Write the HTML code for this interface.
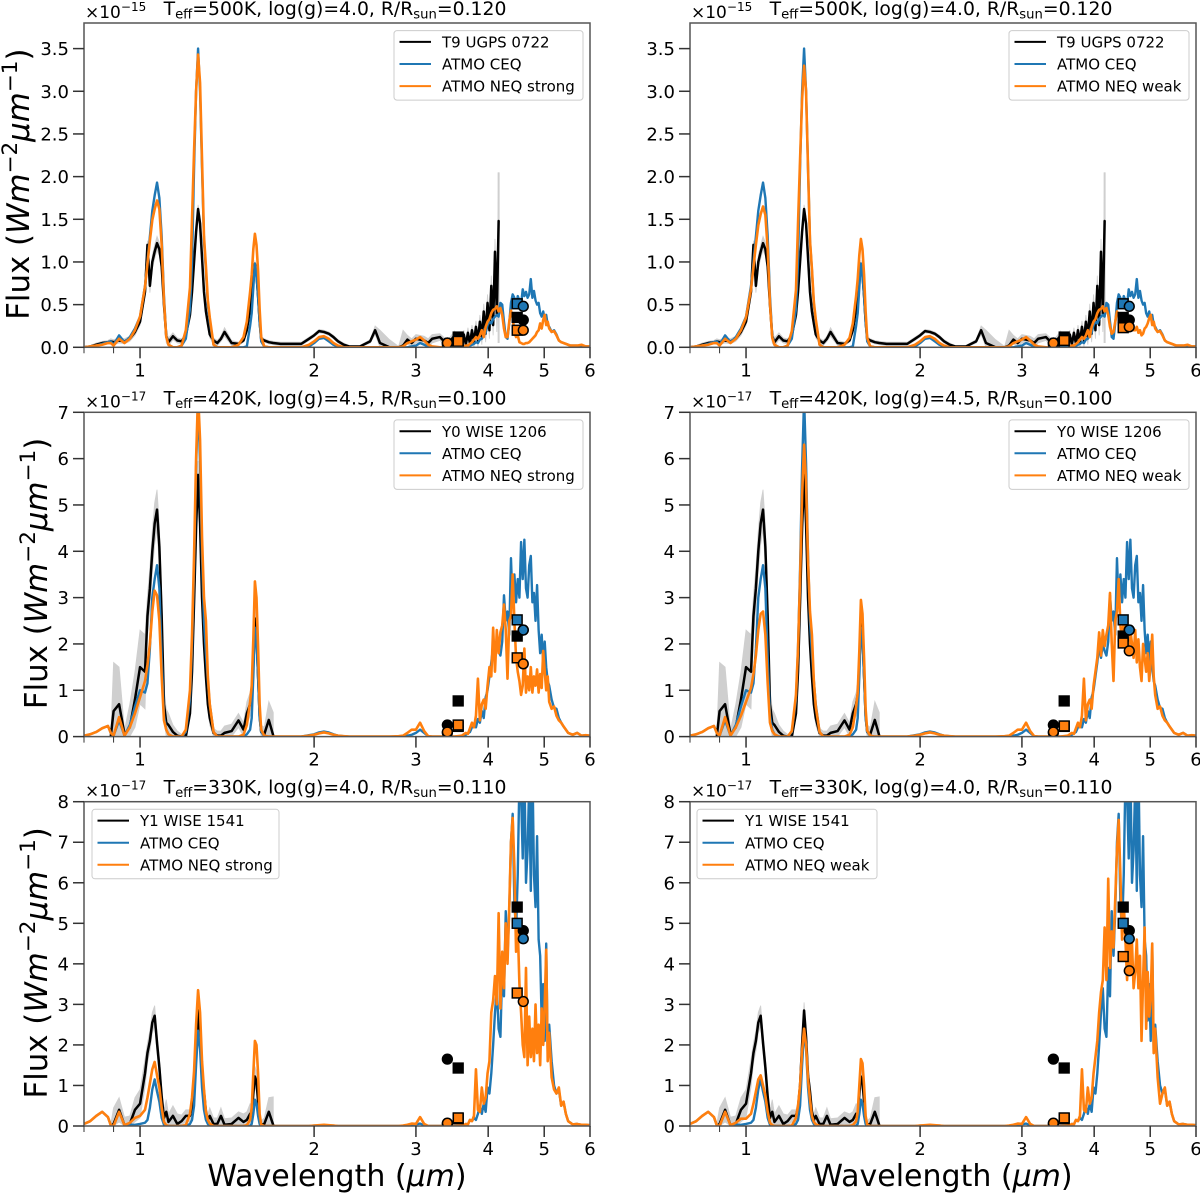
<!DOCTYPE html>
<html lang="en">
<head>
<meta charset="utf-8">
<title>ATMO model spectra compared with brown dwarf observations</title>
<style>
html,body{margin:0;padding:0;background:#fff}
svg{display:block;filter:blur(0.35px)}
text{font-family:"DejaVu Sans","Liberation Sans",sans-serif;fill:#000}
</style>
</head>
<body>
<svg id="figure" xmlns="http://www.w3.org/2000/svg" width="1200" height="1193" viewBox="0 0 1200 1193"></svg>
<script>
const n = null;

/* ---------- Shared wavelength grid (micron) ---------- */
const wave = [
0.80,0.82,0.84,0.86,0.88,0.89,0.90,0.92,0.94,0.96,
0.98,1.00,1.02,1.03,1.04,1.05,1.06,1.07,1.08,1.09,
1.10,1.11,1.12,1.14,1.16,1.18,1.20,1.22,1.23,1.24,
1.25,1.26,1.27,1.28,1.29,1.30,1.31,1.32,1.34,1.36,
1.38,1.40,1.44,1.48,1.51,1.53,1.55,1.56,1.57,1.58,
1.59,1.60,1.61,1.62,1.64,1.67,1.70,1.75,1.80,1.90,
1.96,2.00,2.04,2.08,2.12,2.16,2.20,2.25,2.30,2.40,
2.50,2.55,2.60,2.70,2.80,2.85,2.90,2.95,3.00,3.05,
3.10,3.15,3.20,3.30,3.40,3.50,3.60,3.63,3.66,3.69,
3.72,3.75,3.78,3.81,3.84,3.87,3.90,3.93,3.96,3.99,
4.02,4.05,4.08,4.11,4.14,4.17,4.20,4.23,4.26,4.29,
4.32,4.35,4.38,4.41,4.44,4.47,4.50,4.53,4.56,4.59,
4.62,4.65,4.68,4.71,4.74,4.77,4.80,4.83,4.86,4.89,
4.92,4.95,4.98,5.01,5.04,5.07,5.10,5.15,5.20,5.25,
5.30,5.35,5.40,5.45,5.50,5.55,5.60,5.70,5.80,5.90,
6.00];

/* ---------- T9 UGPS 0722 (x 1e-15) ---------- */
const t9Obs = [
0.00,0.01,0.03,0.05,0.06,0.07,0.06,0.08,0.07,0.10,
0.18,0.30,0.65,1.20,0.72,1.00,1.12,1.22,1.15,0.95,
0.50,0.13,0.06,0.13,0.08,0.07,0.14,0.38,0.65,1.00,
1.35,1.62,1.45,1.05,0.65,0.42,0.28,0.15,0.08,0.05,
0.10,0.18,0.05,0.04,0.08,0.20,0.45,0.60,0.80,0.98,
0.85,0.60,0.30,0.10,0.08,0.06,0.05,0.04,0.04,0.04,
0.10,0.14,0.19,0.18,0.16,0.12,0.07,0.03,0.01,0.01,
0.07,0.20,0.05,0.00,0.00,0.02,0.09,0.05,0.10,0.09,
0.08,0.05,0.10,0.12,0.03,0.14,0.02,0.15,0.03,0.17,
0.04,0.20,0.06,0.24,0.08,0.30,0.12,0.42,0.16,0.52,
0.20,0.72,0.26,1.12,0.38,1.48,n,n,n,n,
n,n,n,n,n,n,n,n,n,n,
n,n,n,n,n,n,n,n,n,n,
n,n,n,n,n,n,n,n,n,n,
n,n,n,n,n,n,n,n,n,n,
n];
const t9Err = [
0.01,0.01,0.02,0.02,0.02,0.03,0.03,0.03,0.03,0.03,
0.04,0.04,0.05,0.05,0.08,0.08,0.08,0.08,0.08,0.08,
0.08,0.08,0.05,0.04,0.03,0.03,0.02,0.02,0.03,0.03,
0.05,0.05,0.08,0.10,0.08,0.06,0.05,0.04,0.03,0.03,
0.03,0.05,0.03,0.02,0.02,0.02,0.02,0.03,0.03,0.04,
0.05,0.05,0.04,0.03,0.02,0.02,0.02,0.02,0.02,0.02,
0.02,0.02,0.02,0.02,0.02,0.02,0.02,0.02,0.01,0.01,
0.02,0.05,0.15,0.09,0.01,0.18,0.05,0.05,0.05,0.05,
0.05,0.05,0.05,0.04,0.05,0.05,0.05,0.05,0.05,0.06,
0.06,0.06,0.07,0.07,0.08,0.08,0.09,0.09,0.10,0.10,
0.10,0.12,0.12,0.15,0.20,0.57,n,n,n,n,
n,n,n,n,n,n,n,n,n,n,
n,n,n,n,n,n,n,n,n,n,
n,n,n,n,n,n,n,n,n,n,
n,n,n,n,n,n,n,n,n,n,
n];
const t9Spike = [4.17,0.05,2.05];
const t9Ceq = [
0.00,0.01,0.02,0.04,0.06,0.07,0.03,0.14,0.06,0.12,
0.22,0.36,0.72,1.00,1.30,1.60,1.78,1.93,1.75,1.30,
0.60,0.13,0.03,0.00,0.00,0.02,0.10,0.45,1.00,2.10,
3.00,3.50,3.00,2.10,1.25,0.90,0.50,0.30,0.03,0.00,
0.00,0.00,0.00,0.00,0.00,0.01,0.25,0.40,0.70,0.98,
0.85,0.60,0.30,0.07,0.01,0.00,0.00,0.00,0.00,0.00,
0.01,0.05,0.10,0.11,0.07,0.03,0.01,0.00,0.00,0.00,
0.00,0.00,0.00,0.00,0.00,0.00,0.00,0.01,0.02,0.05,
0.03,0.01,0.00,0.00,0.00,0.00,0.00,0.00,0.01,0.01,
0.02,0.03,0.04,0.06,0.05,0.09,0.10,0.14,0.17,0.26,
0.30,0.28,0.33,0.36,0.38,0.36,0.52,0.50,0.30,0.12,
0.10,0.28,0.52,0.62,0.58,0.48,0.60,0.55,0.50,0.68,
0.60,0.65,0.58,0.62,0.80,0.58,0.66,0.55,0.50,0.52,
0.40,0.36,0.42,0.33,0.38,0.26,0.24,0.18,0.20,0.15,
0.08,0.06,0.05,0.04,0.03,0.02,0.02,0.02,0.01,0.01,
0.01];
const t9Strong = [
0.00,0.01,0.02,0.03,0.05,0.05,0.02,0.10,0.05,0.10,
0.20,0.36,0.71,0.98,1.25,1.49,1.62,1.72,1.62,1.20,
0.55,0.12,0.03,0.00,0.00,0.02,0.20,0.70,1.50,2.30,
3.00,3.43,3.10,2.20,1.30,0.95,0.55,0.35,0.03,0.00,
0.00,0.00,0.00,0.03,0.12,0.30,0.65,0.85,1.15,1.33,
1.20,0.90,0.45,0.12,0.01,0.00,0.00,0.00,0.00,0.00,
0.03,0.07,0.12,0.13,0.10,0.05,0.02,0.00,0.00,0.00,
0.00,0.00,0.00,0.00,0.00,0.01,0.05,0.07,0.09,0.12,
0.08,0.03,0.01,0.00,0.00,0.00,0.01,0.01,0.02,0.02,
0.04,0.06,0.09,0.12,0.10,0.14,0.20,0.12,0.24,0.30,
0.33,0.40,0.44,0.45,0.48,0.42,0.46,0.38,0.22,0.12,
0.12,0.30,0.43,0.35,0.18,0.12,0.14,0.06,0.05,0.04,
0.04,0.05,0.05,0.06,0.08,0.10,0.12,0.14,0.18,0.20,
0.28,0.22,0.32,0.38,0.26,0.30,0.22,0.18,0.19,0.14,
0.08,0.06,0.05,0.04,0.03,0.02,0.02,0.02,0.03,0.01,
0.01];
const t9Weak = [
0.00,0.01,0.02,0.03,0.05,0.05,0.02,0.10,0.05,0.10,
0.20,0.35,0.68,0.94,1.20,1.43,1.56,1.65,1.55,1.15,
0.52,0.11,0.03,0.00,0.00,0.02,0.19,0.67,1.45,2.20,
2.90,3.30,3.00,2.10,1.25,0.92,0.53,0.33,0.03,0.00,
0.00,0.00,0.00,0.03,0.11,0.28,0.60,0.80,1.08,1.27,
1.15,0.85,0.42,0.11,0.01,0.00,0.00,0.00,0.00,0.00,
0.03,0.07,0.12,0.13,0.10,0.05,0.02,0.00,0.00,0.00,
0.00,0.00,0.00,0.00,0.00,0.01,0.05,0.07,0.09,0.12,
0.08,0.03,0.01,0.00,0.00,0.00,0.01,0.01,0.02,0.02,
0.04,0.06,0.09,0.12,0.10,0.14,0.20,0.12,0.24,0.30,
0.33,0.40,0.44,0.45,0.48,0.42,0.46,0.38,0.24,0.16,
0.18,0.30,0.42,0.38,0.30,0.34,0.30,0.27,0.22,0.24,
0.22,0.25,0.20,0.20,0.24,0.17,0.20,0.14,0.16,0.22,
0.24,0.28,0.34,0.38,0.26,0.30,0.22,0.18,0.19,0.14,
0.08,0.06,0.05,0.04,0.03,0.02,0.02,0.02,0.03,0.01,
0.01];

/* ---------- Y0 WISE 1206 (x 1e-17) ---------- */
const y0Obs = [
n,n,n,n,n,0.00,0.55,0.70,0.05,0.20,
0.80,1.50,1.40,2.60,3.20,4.00,4.60,4.90,4.10,2.60,
0.70,0.30,0.25,0.10,0.02,0.00,0.00,0.50,1.40,2.90,
4.50,5.65,4.60,3.00,2.00,1.30,0.70,0.40,0.08,0.02,
0.02,0.08,0.12,0.35,0.15,0.50,0.70,0.90,1.60,2.55,
2.20,1.30,0.45,0.10,0.05,0.36,0.02,n,n,n,
n,n,n,n,n,n,n,n,n,n,
n,n,n,n,n,n,n,n,n,n,
n,n,n,n,n,n,n,n,n,n,
n,n,n,n,n,n,n,n,n,n,
n,n,n,n,n,n,n,n,n,n,
n,n,n,n,n,n,n,n,n,n,
n,n,n,n,n,n,n,n,n,n,
n,n,n,n,n,n,n,n,n,n,
n,n,n,n,n,n,n,n,n,n,
n];
const y0Err = [
n,n,n,n,n,0.05,1.05,0.80,0.10,0.50,
0.60,0.80,0.80,0.45,0.45,0.45,0.45,0.43,0.45,0.45,
0.35,0.30,0.25,0.15,0.10,0.05,0.05,0.10,0.15,0.15,
0.20,0.30,0.35,0.30,0.25,0.20,0.15,0.15,0.10,0.10,
0.10,0.15,0.15,0.15,0.15,0.25,0.25,0.25,0.25,0.30,
0.30,0.25,0.20,0.15,0.15,0.40,0.50,n,n,n,
n,n,n,n,n,n,n,n,n,n,
n,n,n,n,n,n,n,n,n,n,
n,n,n,n,n,n,n,n,n,n,
n,n,n,n,n,n,n,n,n,n,
n,n,n,n,n,n,n,n,n,n,
n,n,n,n,n,n,n,n,n,n,
n,n,n,n,n,n,n,n,n,n,
n,n,n,n,n,n,n,n,n,n,
n,n,n,n,n,n,n,n,n,n,
n];
const y0Ceq = [
0.02,0.05,0.10,0.18,0.23,0.08,0.02,0.35,0.02,0.25,
0.65,1.00,0.95,1.15,1.90,3.00,3.40,3.70,3.20,1.70,
0.45,0.15,0.05,0.00,0.00,0.00,0.10,0.80,1.90,3.60,
5.80,7.30,5.90,3.90,2.50,1.80,1.20,0.70,0.10,0.00,
0.00,0.00,0.00,0.00,0.00,0.05,0.15,0.40,1.30,2.35,
2.10,1.30,0.40,0.10,0.01,0.00,0.00,0.00,0.00,0.00,
0.03,0.05,0.09,0.11,0.09,0.05,0.02,0.01,0.00,0.00,
0.00,0.00,0.00,0.00,0.00,0.00,0.02,0.04,0.08,0.15,
0.08,0.01,0.00,0.00,0.00,0.00,0.01,0.02,0.04,0.07,
0.10,0.20,0.28,0.20,0.38,0.30,0.55,0.40,0.85,1.00,
1.30,1.60,1.95,1.70,2.00,1.85,1.75,2.05,3.05,2.50,
2.70,2.20,3.85,2.80,3.50,2.90,3.40,3.00,4.20,3.40,
4.25,3.20,3.00,3.70,3.90,2.90,3.10,2.50,3.27,2.30,
1.80,2.20,1.60,2.05,1.50,1.20,1.10,0.80,0.62,0.60,
0.40,0.30,0.22,0.15,0.08,0.06,0.04,0.08,0.02,0.03,
0.02];
const y0Strong = [
0.02,0.05,0.10,0.18,0.23,0.08,0.02,0.42,0.02,0.20,
0.50,0.85,1.20,1.55,2.00,2.70,3.15,3.05,2.50,1.30,
0.35,0.15,0.05,0.00,0.00,0.00,0.15,1.00,2.20,3.90,
6.00,7.40,6.40,4.30,3.00,2.50,1.30,0.70,0.10,0.00,
0.00,0.00,0.00,0.00,0.04,0.25,0.75,1.10,2.10,3.35,
3.00,1.95,0.70,0.15,0.02,0.00,0.00,0.00,0.00,0.00,
0.02,0.04,0.07,0.09,0.07,0.04,0.02,0.01,0.00,0.00,
0.00,0.00,0.00,0.00,0.01,0.02,0.08,0.15,0.15,0.30,
0.12,0.01,0.00,0.00,0.00,0.00,0.02,0.05,0.08,0.06,
0.18,0.30,0.20,0.45,1.25,0.35,0.70,0.80,0.60,1.10,
1.50,1.30,2.35,1.40,2.30,1.80,2.25,2.40,2.85,2.30,
1.25,2.50,2.60,3.50,2.50,1.70,1.40,1.20,0.90,1.10,
1.90,0.95,1.30,1.00,1.50,0.95,1.30,1.10,1.45,0.95,
1.35,1.05,1.85,1.40,1.00,1.30,0.75,0.60,0.65,0.45,
0.35,0.30,0.22,0.15,0.08,0.06,0.04,0.08,0.02,0.03,
0.02];
const y0Weak = [
0.02,0.05,0.10,0.18,0.23,0.08,0.02,0.42,0.02,0.20,
0.45,0.75,1.05,1.35,1.75,2.30,2.65,2.70,2.20,1.15,
0.30,0.12,0.05,0.00,0.00,0.00,0.12,0.90,1.90,3.40,
5.20,6.30,5.50,3.80,2.70,2.20,1.20,0.65,0.10,0.00,
0.00,0.00,0.00,0.00,0.04,0.20,0.65,0.95,1.85,2.95,
2.65,1.70,0.60,0.13,0.02,0.00,0.00,0.00,0.00,0.00,
0.02,0.04,0.07,0.09,0.07,0.04,0.02,0.01,0.00,0.00,
0.00,0.00,0.00,0.00,0.01,0.02,0.08,0.15,0.15,0.30,
0.12,0.01,0.00,0.00,0.00,0.00,0.02,0.05,0.08,0.06,
0.18,0.30,0.20,0.45,1.25,0.35,0.70,0.80,0.60,1.10,
1.40,1.70,2.25,1.75,2.30,1.95,2.20,2.40,3.10,2.00,
1.20,2.50,2.70,3.40,2.40,2.10,2.50,2.00,2.30,1.80,
2.30,2.00,1.70,2.30,1.60,2.10,1.50,1.20,2.00,1.70,
1.40,1.80,1.20,1.60,2.20,1.30,0.90,0.60,0.65,0.45,
0.35,0.30,0.22,0.15,0.08,0.06,0.04,0.08,0.02,0.03,
0.02];

/* ---------- Y1 WISE 1541 (x 1e-17) ---------- */
const y1Obs = [
n,n,n,n,n,0.00,0.05,0.40,0.02,0.05,
0.40,0.55,1.30,1.80,2.10,2.55,2.72,2.05,1.45,0.72,
0.20,0.35,0.10,0.25,0.05,0.12,0.25,0.25,0.45,1.00,
2.00,2.85,2.20,1.25,0.85,0.35,0.15,0.25,0.05,0.05,
0.25,0.03,0.05,0.20,0.10,0.15,0.30,0.25,0.80,1.22,
1.10,0.60,0.10,0.03,0.05,0.35,0.02,n,n,n,
n,n,n,n,n,n,n,n,n,n,
n,n,n,n,n,n,n,n,n,n,
n,n,n,n,n,n,n,n,n,n,
n,n,n,n,n,n,n,n,n,n,
n,n,n,n,n,n,n,n,n,n,
n,n,n,n,n,n,n,n,n,n,
n,n,n,n,n,n,n,n,n,n,
n,n,n,n,n,n,n,n,n,n,
n,n,n,n,n,n,n,n,n,n,
n];
const y1Err = [
n,n,n,n,n,0.05,0.40,0.30,0.20,0.20,
0.30,0.35,0.35,0.25,0.25,0.25,0.25,0.25,0.25,0.25,
0.20,0.30,0.20,0.25,0.25,0.15,0.15,0.15,0.15,0.20,
0.20,0.20,0.20,0.20,0.15,0.15,0.15,0.20,0.15,0.15,
0.20,0.15,0.15,0.15,0.20,0.20,0.25,0.25,0.25,0.25,
0.25,0.20,0.15,0.10,0.15,0.35,0.70,n,n,n,
n,n,n,n,n,n,n,n,n,n,
n,n,n,n,n,n,n,n,n,n,
n,n,n,n,n,n,n,n,n,n,
n,n,n,n,n,n,n,n,n,n,
n,n,n,n,n,n,n,n,n,n,
n,n,n,n,n,n,n,n,n,n,
n,n,n,n,n,n,n,n,n,n,
n,n,n,n,n,n,n,n,n,n,
n,n,n,n,n,n,n,n,n,n,
n];
const y1Ceq = [
0.05,0.12,0.25,0.35,0.22,0.02,0.00,0.35,0.02,0.03,
0.03,0.05,0.08,0.15,0.45,0.90,1.15,0.85,0.60,0.20,
0.03,0.00,0.00,0.00,0.00,0.00,0.00,0.05,0.15,0.50,
1.50,2.35,1.90,0.95,0.40,0.15,0.05,0.00,0.00,0.00,
0.00,0.00,0.00,0.00,0.00,0.00,0.00,0.05,0.30,0.65,
0.55,0.25,0.05,0.00,0.00,0.00,0.00,0.00,0.00,0.00,
0.00,0.01,0.01,0.02,0.01,0.01,0.00,0.00,0.00,0.00,
0.00,0.00,0.00,0.00,0.00,0.00,0.01,0.02,0.04,0.06,
0.02,0.00,0.00,0.00,0.00,0.00,0.01,0.02,0.05,0.04,
0.15,0.12,0.20,0.15,0.30,0.50,0.30,0.55,0.35,0.95,
0.80,1.30,2.00,2.80,3.40,2.40,2.20,3.90,3.20,5.30,
4.20,5.30,7.00,7.70,5.50,4.80,6.20,8.60,8.20,6.60,
8.90,6.00,6.80,8.50,5.80,9.00,6.20,5.40,7.15,4.60,
4.20,2.60,3.50,2.10,4.50,1.80,2.50,1.60,1.00,0.80,
0.90,0.50,0.60,0.30,0.12,0.08,0.04,0.05,0.03,0.03,
0.02];
const y1Strong = [
0.05,0.12,0.25,0.35,0.22,0.02,0.00,0.35,0.02,0.08,
0.20,0.25,0.40,0.70,1.05,1.40,1.58,1.25,0.95,0.45,
0.10,0.02,0.00,0.00,0.00,0.00,0.02,0.30,0.70,1.35,
2.50,3.35,2.80,1.60,0.90,0.35,0.15,0.06,0.00,0.00,
0.00,0.00,0.00,0.00,0.00,0.02,0.15,0.45,1.30,2.10,
2.00,1.30,0.30,0.03,0.00,0.00,0.00,0.00,0.00,0.00,
0.00,0.01,0.02,0.03,0.02,0.01,0.00,0.00,0.00,0.00,
0.00,0.00,0.00,0.00,0.00,0.01,0.03,0.06,0.05,0.22,
0.05,0.00,0.00,0.00,0.00,0.00,0.01,0.02,0.05,0.04,
0.15,0.12,0.25,1.40,0.40,0.35,0.95,0.55,0.70,1.30,
1.60,2.80,3.10,3.70,3.00,5.25,2.90,4.30,3.40,5.00,
4.00,5.40,7.00,7.60,6.40,4.30,4.90,3.50,2.80,2.00,
1.70,3.90,1.50,2.70,1.70,2.40,1.60,3.00,1.80,2.50,
1.50,2.90,2.00,3.00,4.35,1.60,2.30,1.20,0.90,0.80,
0.95,0.50,0.60,0.30,0.12,0.08,0.04,0.05,0.03,0.03,
0.02];
const y1Weak = [
0.05,0.12,0.25,0.35,0.22,0.02,0.00,0.35,0.02,0.08,
0.18,0.18,0.30,0.55,0.85,1.15,1.25,1.00,0.75,0.35,
0.08,0.02,0.00,0.00,0.00,0.00,0.01,0.20,0.50,1.00,
1.85,2.40,2.00,1.15,0.65,0.25,0.10,0.04,0.00,0.00,
0.00,0.00,0.00,0.00,0.00,0.02,0.12,0.35,1.00,1.65,
1.55,1.00,0.25,0.03,0.00,0.00,0.00,0.00,0.00,0.00,
0.00,0.01,0.02,0.03,0.02,0.01,0.00,0.00,0.00,0.00,
0.00,0.00,0.00,0.00,0.00,0.01,0.03,0.06,0.05,0.22,
0.05,0.00,0.00,0.00,0.00,0.00,0.01,0.02,0.05,0.04,
0.15,0.12,0.25,1.40,0.40,0.35,0.95,0.55,0.70,1.30,
1.70,2.10,2.80,3.30,3.60,4.90,3.60,6.10,3.90,4.80,
4.40,5.60,6.80,7.55,6.20,4.60,5.50,4.60,3.60,4.80,
3.90,4.50,3.40,3.80,4.60,3.40,4.20,2.10,3.60,4.90,
2.40,3.80,2.70,3.20,4.50,1.80,2.40,1.20,0.55,0.80,
0.95,0.50,0.60,0.30,0.12,0.08,0.04,0.05,0.03,0.03,
0.02];

/* ---------- Photometry: W1 3.4, ch1 3.55, ch2 4.49, W2 4.6 ---------- */
const photWave = [3.40,3.55,4.49,4.60];
const photShape = ['circle','square','square','circle'];
const t9PhotObs = [0.05,0.12,0.35,0.32];
const t9PhotCeq = [0.03,0.05,0.51,0.48];
const t9PhotStrong = [0.05,0.07,0.20,0.20];
const t9PhotWeak = [0.05,0.08,0.23,0.24];
const y0PhotObs = [0.25,0.77,2.17,2.30];
const y0PhotCeq = [0.08,0.22,2.52,2.30];
const y0PhotStrong = [0.10,0.25,1.70,1.57];
const y0PhotWeak = [0.10,0.23,2.02,1.85];
const y1PhotObs = [1.65,1.43,5.40,4.82];
const y1PhotCeq = [0.05,0.18,5.00,4.62];
const y1PhotStrong = [0.07,0.20,3.28,3.07];
const y1PhotWeak = [0.07,0.20,4.18,3.83];

/* ---------- Axis labels ---------- */
const xTickValues = [1,2,3,4,5,6];
const xMinorValues = [0.8,0.9];
const t9TickLabels = ['0.0','0.5','1.0','1.5','2.0','2.5','3.0','3.5'];
const y0TickLabels = ['0','1','2','3','4','5','6','7'];
const y1TickLabels = ['0','1','2','3','4','5','6','7','8'];

/* ---------- Panel wiring ---------- */
const panels = [
 {col:0,row:0,yMax:3.8,ticks:t9TickLabels,exp:'\u221215',teff:'500',logg:'4.0',rad:'0.120',obsName:'T9 UGPS 0722',neqName:'ATMO NEQ strong',obs:t9Obs,err:t9Err,spike:t9Spike,ceq:t9Ceq,neq:t9Strong,pObs:t9PhotObs,pCeq:t9PhotCeq,pNeq:t9PhotStrong},
 {col:1,row:0,yMax:3.8,ticks:t9TickLabels,exp:'\u221215',teff:'500',logg:'4.0',rad:'0.120',obsName:'T9 UGPS 0722',neqName:'ATMO NEQ weak',obs:t9Obs,err:t9Err,spike:t9Spike,ceq:t9Ceq,neq:t9Weak,pObs:t9PhotObs,pCeq:t9PhotCeq,pNeq:t9PhotWeak},
 {col:0,row:1,yMax:7,ticks:y0TickLabels,exp:'\u221217',teff:'420',logg:'4.5',rad:'0.100',obsName:'Y0 WISE 1206',neqName:'ATMO NEQ strong',obs:y0Obs,err:y0Err,ceq:y0Ceq,neq:y0Strong,pObs:y0PhotObs,pCeq:y0PhotCeq,pNeq:y0PhotStrong},
 {col:1,row:1,yMax:7,ticks:y0TickLabels,exp:'\u221217',teff:'420',logg:'4.5',rad:'0.100',obsName:'Y0 WISE 1206',neqName:'ATMO NEQ weak',obs:y0Obs,err:y0Err,ceq:y0Ceq,neq:y0Weak,pObs:y0PhotObs,pCeq:y0PhotCeq,pNeq:y0PhotWeak},
 {col:0,row:2,yMax:8,ticks:y1TickLabels,exp:'\u221217',teff:'330',logg:'4.0',rad:'0.110',obsName:'Y1 WISE 1541',neqName:'ATMO NEQ strong',obs:y1Obs,err:y1Err,ceq:y1Ceq,neq:y1Strong,pObs:y1PhotObs,pCeq:y1PhotCeq,pNeq:y1PhotStrong},
 {col:1,row:2,yMax:8,ticks:y1TickLabels,exp:'\u221217',teff:'330',logg:'4.0',rad:'0.110',obsName:'Y1 WISE 1541',neqName:'ATMO NEQ weak',obs:y1Obs,err:y1Err,ceq:y1Ceq,neq:y1Weak,pObs:y1PhotObs,pCeq:y1PhotCeq,pNeq:y1PhotWeak}
];

/* ---------- Layout ---------- */
const colLeft = [84,690];
const rowTop = [23,412.3,801.7];
const plotW = 506, plotH = 324.3;
const xMin = 0.8, xMax = 6;
const BLUE = '#1f77b4', ORANGE = '#ff7f0e', BLACK = '#000000', GREY = '#cfcfcf';
const SVGNS = 'http://www.w3.org/2000/svg';
const root = document.getElementById('figure');

function mk(tag, attrs, parent){
  const e = document.createElementNS(SVGNS, tag);
  for (const k in attrs) e.setAttribute(k, attrs[k]);
  parent.appendChild(e);
  return e;
}
function span(parent, str, attrs){
  const t = document.createElementNS(SVGNS, 'tspan');
  for (const k in (attrs || {})) t.setAttribute(k, attrs[k]);
  t.textContent = str;
  parent.appendChild(t);
  return t;
}

function linePath(xs, ys, sx, sy){
  let d = '', pen = false;
  for (let i = 0; i < xs.length; i++){
    if (ys[i] === null || ys[i] === undefined){ pen = false; continue; }
    d += (pen ? 'L' : 'M') + sx(xs[i]).toFixed(2) + ' ' + sy(ys[i]).toFixed(2);
    pen = true;
  }
  return d;
}
function bandPath(xs, ys, es, sx, sy){
  let up = '', down = [];
  for (let i = 0; i < xs.length; i++){
    if (ys[i] === null || es[i] === null) continue;
    up += (up ? 'L' : 'M') + sx(xs[i]).toFixed(2) + ' ' + sy(ys[i] + es[i]).toFixed(2);
    down.unshift('L' + sx(xs[i]).toFixed(2) + ' ' + sy(Math.max(0, ys[i] - es[i])).toFixed(2));
  }
  return up + down.join('') + 'Z';
}

function drawMarkers(g, values, color, sx, sy){
  for (let i = 0; i < photWave.length; i++){
    const cx = sx(photWave[i]), cy = sy(values[i]);
    if (photShape[i] === 'circle'){
      const c = mk('circle', {cx:cx, cy:cy, r:4.9, fill:color, stroke:'#000', 'stroke-width':1.5}, g);
      
      
    } else {
      const r = mk('rect', {x:cx-4.9, y:cy-4.9, width:9.8, height:9.8, fill:color, stroke:'#000', 'stroke-width':1.5}, g);
      
      
    }
  }
}

panels.forEach(function(p, idx){
  const left = colLeft[p.col], top = rowTop[p.row], bottom = top + plotH, right = left + plotW;
  const sx = v => left + Math.log(v / xMin) / Math.log(xMax / xMin) * plotW;
  const sy = v => bottom - v / p.yMax * plotH;

  const g = mk('g', {}, root);
  
  

  const clipId = 'plot-clip-' + idx;
  const cp = mk('clipPath', {id:clipId}, g);
  mk('rect', {x:left, y:top, width:plotW, height:plotH}, cp);

  const plot = mk('g', {'clip-path':'url(#' + clipId + ')'}, g);
  
  

  const band = mk('path', {d:bandPath(wave, p.obs, p.err, sx, sy), fill:GREY, stroke:GREY, 'stroke-width':0.8}, plot);
  
  

  if (p.spike){
    const sp = mk('line', {x1:sx(p.spike[0]), x2:sx(p.spike[0]), y1:sy(p.spike[1]), y2:sy(p.spike[2]), stroke:GREY, 'stroke-width':2}, plot);
    
    
  }

  const common = {fill:'none', 'stroke-linejoin':'round', 'stroke-linecap':'round'};
  const obsLine = mk('path', Object.assign({d:linePath(wave, p.obs, sx, sy), stroke:BLACK, 'stroke-width':2.5}, common), plot);
  
  

  const ceqLine = mk('path', Object.assign({d:linePath(wave, p.ceq, sx, sy), stroke:BLUE, 'stroke-width':2.4}, common), plot);
  
  

  const neqLine = mk('path', Object.assign({d:linePath(wave, p.neq, sx, sy), stroke:ORANGE, 'stroke-width':2.6}, common), plot);
  
  

  drawMarkers(plot, p.pObs, BLACK, sx, sy);
  drawMarkers(plot, p.pCeq, BLUE, sx, sy);
  drawMarkers(plot, p.pNeq, ORANGE, sx, sy);

  const frame = mk('rect', {x:left, y:top, width:plotW, height:plotH, fill:'none', stroke:'#555', 'stroke-width':1.5}, g);
  
  

  /* x ticks */
  xTickValues.forEach(function(v){
    const t = mk('line', {x1:sx(v), x2:sx(v), y1:bottom, y2:bottom + 11, stroke:'#333', 'stroke-width':1.5}, g);
    
    
    const l = mk('text', {x:sx(v), y:bottom + 29, 'text-anchor':'middle', 'font-size':18}, g);
    l.textContent = String(v);
    
    
  });
  xMinorValues.forEach(function(v){
    const t = mk('line', {x1:sx(v), x2:sx(v), y1:bottom, y2:bottom + 6, stroke:'#333', 'stroke-width':1}, g);
    
    
  });

  /* y ticks */
  p.ticks.forEach(function(lab){
    const yy = sy(parseFloat(lab));
    const t = mk('line', {x1:left - 11, x2:left, y1:yy, y2:yy, stroke:'#333', 'stroke-width':1.5}, g);
    
    
    const l = mk('text', {x:left - 15, y:yy + 6.5, 'text-anchor':'end', 'font-size':18}, g);
    l.textContent = lab;
    
    
  });

  /* offset exponent */
  const off = mk('text', {x:left + 1, y:top - 5, 'font-size':17}, g);
  span(off, '\u00d710');
  span(off, p.exp, {'font-size':12, dy:-7});
  
  

  /* title */
  const ttl = mk('text', {x:left + 251, y:top - 8, 'text-anchor':'middle', 'font-size':18.8}, g);
  span(ttl, 'T');
  span(ttl, 'eff', {'font-size':13.2, dy:3.5});
  span(ttl, '=' + p.teff + 'K, log(g)=' + p.logg + ', R/R', {dy:-3.5});
  span(ttl, 'sun', {'font-size':13.2, dy:3.5});
  span(ttl, '=' + p.rad, {dy:-3.5});
  
  

  /* legend */
  const atLeft = p.row === 2;
  const strong = p.col === 0;
  const lx = atLeft ? left + (strong ? 8 : 7) : left + (strong ? 310 : 319);
  const lw = strong ? (atLeft ? 187 : 189) : 180;
  const ly = top + 7.6;
  const leg = mk('g', {}, g);
  
  
  const box = mk('rect', {x:lx, y:ly, width:lw, height:69.5, rx:3, ry:3, fill:'#fff', 'fill-opacity':0.8, stroke:'#ccc', 'stroke-width':1}, leg);
  
  
  const rowNames = [p.obsName, 'ATMO CEQ', p.neqName];
  const rowCols = [BLACK, BLUE, ORANGE];
  rowNames.forEach(function(txt, i){
    const yy = ly + 11.3 + i * 22.1;
    const sw = mk('line', {x1:lx + 5.5, x2:lx + 37, y1:yy, y2:yy, stroke:rowCols[i], 'stroke-width':2}, leg);
    
    
    const tx = mk('text', {x:lx + 48, y:yy + 5.6, 'font-size':15}, leg);
    tx.textContent = txt;
    
    
  });

  /* y-axis label on left column */
  if (p.col === 0){
    const bx = p.row === 0 ? 29 : 47;
    const cy = (top + bottom) / 2 - 1;
    const yl = mk('text', {transform:'translate(' + bx + ' ' + cy + ') rotate(-90)', 'text-anchor':'middle', 'font-size':30.8}, g);
    span(yl, 'Flux (');
    span(yl, 'Wm', {'font-style':'italic'});
    span(yl, '\u22122', {'font-size':21.5, dy:-12});
    span(yl, '\u03bcm', {'font-style':'italic', dy:12});
    span(yl, '\u22121', {'font-size':21.5, dy:-12});
    span(yl, ')', {dy:12});
    
    
  }

  /* x-axis label on bottom row */
  if (p.row === 2){
    const xl = mk('text', {x:left + 253, y:bottom + 60, 'text-anchor':'middle', 'font-size':30}, g);
    span(xl, 'Wavelength (');
    span(xl, '\u03bcm', {'font-style':'italic'});
    span(xl, ')');
    
    
  }
});
</script>
</body>
</html>
